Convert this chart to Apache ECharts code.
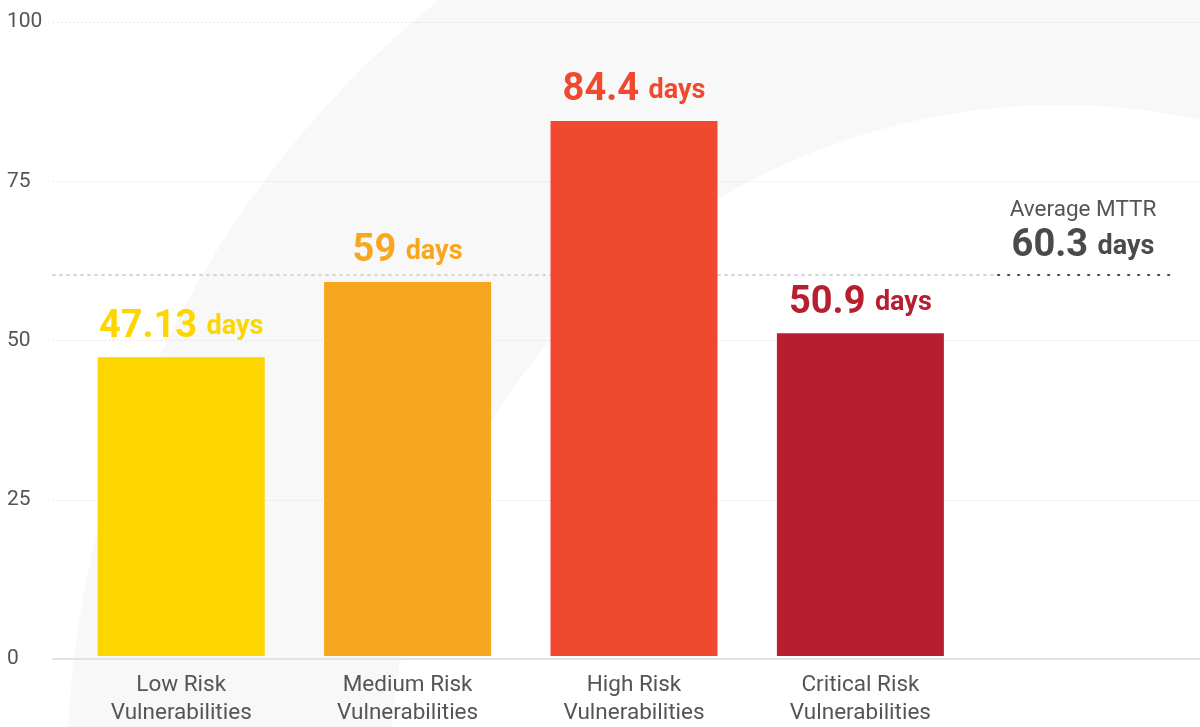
<!DOCTYPE html>
<html><head><meta charset="utf-8">
<script src="https://cdn.jsdelivr.net/npm/echarts@6/dist/echarts.min.js"></script>
<style>html,body{margin:0;padding:0;background:#fff}#c{width:1200px;height:727px}</style>
</head><body><div id="c"></div>
<script>
const categories = ['Low Risk\nVulnerabilities', 'Medium Risk\nVulnerabilities', 'High Risk\nVulnerabilities', 'Critical Risk\nVulnerabilities', ''];
const mttrDays = [47.13, 59, 84.4, 50.9];
const barColors = ['#FDD600', '#F7A71F', '#EF4930', '#B71F31'];
const averageMttr = 60.3;
const averageLabel = 'Average MTTR';
const unitLabel = 'days';
const yTicks = [0, 25, 50, 75, 100];

const FONT = 'Roboto';
const chart = echarts.init(document.getElementById('c'), null, {renderer: 'canvas'});

const barData = mttrDays.map((v, i) => ({
  value: v,
  itemStyle: {color: barColors[i]},
  label: {
    rich: {
      n: {fontSize: 38, fontWeight: 'bold', color: barColors[i], fontFamily: FONT, lineHeight: 44},
      d: {fontSize: 27, fontWeight: 'bold', color: barColors[i], fontFamily: FONT, lineHeight: 44}
    }
  }
}));

const option = {
  backgroundColor: '#ffffff',
  animation: false,
  graphic: [{
    type: 'ring', z: -10, silent: true,
    shape: {cx: 1060, cy: 775, r: 993, r0: 670},
    style: {fill: '#f8f8f8'}
  }],
  grid: [
    {left: 53, right: 0, top: 22, bottom: 68},
    {left: 68, width: 1136, top: 22, bottom: 68}
  ],
  xAxis: [
    {gridIndex: 0, type: 'value', min: 0, max: 100, axisLabel: {show: false}, axisTick: {show: false},
     splitLine: {show: false}, axisLine: {show: true, lineStyle: {color: '#e2e2e2', width: 2}}},
    {gridIndex: 1, type: 'category', data: categories, axisLine: {show: false}, axisTick: {show: false},
     axisLabel: {color: '#555', fontSize: 22.5, fontFamily: FONT, lineHeight: 28, margin: 15, interval: 0}}
  ],
  yAxis: [
    {gridIndex: 0, type: 'value', min: yTicks[0], max: yTicks[yTicks.length - 1], interval: yTicks[1] - yTicks[0],
     axisLine: {show: false}, axisTick: {show: false},
     axisLabel: {color: '#555', fontSize: 21, fontFamily: FONT, align: 'left', margin: 46},
     splitLine: {show: true, lineStyle: {color: '#d4d4d4', width: 1, type: [1, 3]}}},
    {gridIndex: 1, type: 'value', min: yTicks[0], max: yTicks[yTicks.length - 1], show: false, splitLine: {show: false}}
  ],
  series: [
    {
      type: 'line', xAxisIndex: 0, yAxisIndex: 0, data: [], silent: true, z: 1,
      markLine: {
        silent: true, symbol: ['none', 'none'], label: {show: false}, z: 1,
        data: [
          [{coord: [0, averageMttr], lineStyle: {color: '#d6d6d6', width: 2, type: [2, 5], cap: 'round'}},
           {coord: [82, averageMttr]}],
          [{coord: [82.4, averageMttr], lineStyle: {color: '#444', width: 2.2, type: [1, 9], cap: 'round'}},
           {coord: [97.8, averageMttr]}]
        ]
      },
      markPoint: {
        silent: true, symbol: 'circle', symbolSize: 0,
        data: [{coord: [89.8, averageMttr]}],
        label: {
          show: true, position: 'top', distance: 6,
          formatter: () => `{a|${averageLabel}}\n{n|${averageMttr} }{d|${unitLabel}}`,
          rich: {
            a: {fontSize: 22.5, color: '#555', fontFamily: FONT, lineHeight: 30},
            n: {fontSize: 38, fontWeight: 'bold', color: '#4a4a4a', fontFamily: FONT, lineHeight: 44},
            d: {fontSize: 27, fontWeight: 'bold', color: '#4a4a4a', fontFamily: FONT, lineHeight: 44}
          }
        }
      }
    },
    {
      type: 'bar', xAxisIndex: 1, yAxisIndex: 1, barWidth: 167, data: barData, z: 5,
      label: {
        show: true, position: 'top', distance: 8,
        formatter: (p) => `{n|${p.value} }{d|${unitLabel}}`
      }
    }
  ]
};
chart.setOption(option);
</script></body></html>
